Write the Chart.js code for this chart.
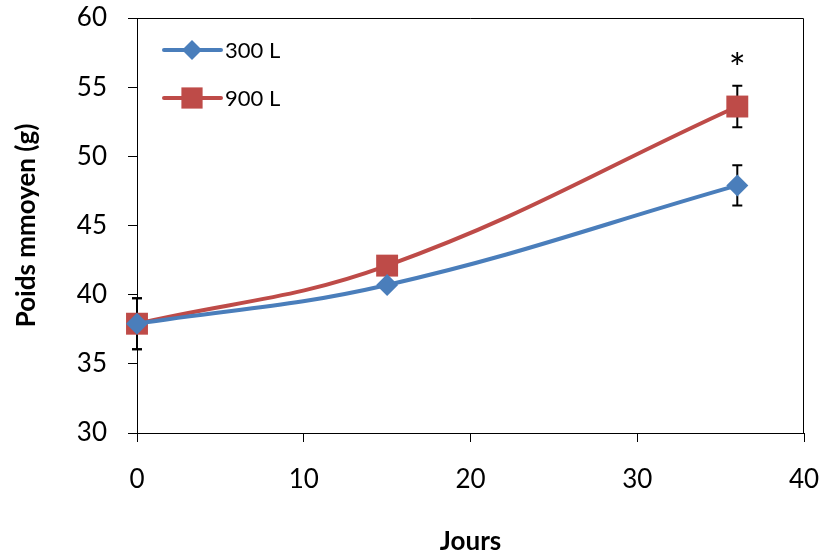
<!DOCTYPE html>
<html>
<head>
<meta charset="utf-8">
<script src="https://cdn.jsdelivr.net/npm/chart.js@4.4.1/dist/chart.umd.min.js"></script>
<style>
  html, body { margin: 0; padding: 0; background: #fff; }
  #wrap { width: 824px; height: 558px; }
</style>
</head>
<body>
<div id="wrap"><canvas id="poidsChart" width="824" height="558"></canvas></div>
<script>
const days = [0, 15, 36];
const poids300 = [37.9, 40.7, 47.9];
const poids900 = [37.9, 42.1, 53.6];
const err300 = [1.85, 0, 1.45];
const err900 = [1.85, 0, 1.5];
const seriesNames = ['300 L', '900 L'];
const xTicks = [0, 10, 20, 30, 40];
const yTicks = [30, 35, 40, 45, 50, 55, 60];
const starDay = 36; // significant difference

const blue = '#4A7EBB';
const red = '#BE4B48';
const font = 'Lato';

// error bars, drawn under the lines
const errorBars = {
    id: 'errorBars',
    beforeDatasetsDraw(chart) {
        const ctx = chart.ctx;
        const y = chart.scales.y;
        ctx.save();
        ctx.strokeStyle = '#000';
        ctx.lineWidth = 2;
        chart.data.datasets.forEach((ds, i) => {
            const meta = chart.getDatasetMeta(i);
            ds.errors.forEach((e, j) => {
                if (!e) return;
                const px = meta.data[j].x;
                const top = y.getPixelForValue(ds.data[j].y + e);
                const bot = y.getPixelForValue(ds.data[j].y - e);
                ctx.beginPath();
                ctx.moveTo(px, top); ctx.lineTo(px, bot);
                ctx.moveTo(px - 5, top); ctx.lineTo(px + 5, top);
                ctx.moveTo(px - 5, bot); ctx.lineTo(px + 5, bot);
                ctx.stroke();
            });
        });
        ctx.restore();
    }
};

// frame, legend and star
const extras = {
    id: 'extras',
    afterDraw(chart) {
        const ctx = chart.ctx;
        const a = chart.chartArea;
        ctx.save();
        ctx.strokeStyle = '#000';
        ctx.lineWidth = 1;
        ctx.beginPath();
        ctx.moveTo(a.left, a.top + 0.5); ctx.lineTo(a.right - 0.5, a.top + 0.5);
        ctx.lineTo(a.right - 0.5, a.bottom);
        ctx.stroke();

        // legend
        const items = [
            { label: seriesNames[0], color: blue, style: 'rectRot', r: 10 },
            { label: seriesNames[1], color: red, style: 'rect', r: 15 }
        ];
        items.forEach((it, i) => {
            const ly = a.top + 32 + i * 48;
            const lx = a.left + 27;
            ctx.strokeStyle = it.color;
            ctx.lineWidth = 4;
            ctx.lineCap = 'round';
            ctx.beginPath();
            ctx.moveTo(lx, ly); ctx.lineTo(lx + 57, ly);
            ctx.stroke();
            ctx.fillStyle = it.color;
            Chart.helpers.drawPoint(ctx, { pointStyle: it.style, radius: it.r, borderWidth: 0 }, lx + 28, ly);
            ctx.fillStyle = '#000';
            ctx.font = '22px ' + font;
            ctx.textBaseline = 'middle';
            ctx.fillText(it.label, lx + 61, ly + 1);
        });

        // star above 900 L at day 36
        const sx = chart.scales.x.getPixelForValue(starDay);
        const sy = chart.scales.y.getPixelForValue(poids900[2] + err900[2]) - 3;
        ctx.fillStyle = '#000';
        ctx.font = '40px ' + font;
        ctx.textAlign = 'center';
        ctx.textBaseline = 'alphabetic';
        ctx.fillText('*', sx, sy);
        ctx.restore();
    }
};

const ctx = document.getElementById('poidsChart').getContext('2d');
const poidsChart = new Chart(ctx, {
    type: 'line',
    data: {
        datasets: [{
            label: seriesNames[0],
            data: days.map((d, i) => ({ x: d, y: poids300[i] })),
            errors: err300,
            borderColor: blue,
            backgroundColor: blue,
            borderWidth: 4,
            pointStyle: 'rectRot',
            pointRadius: 11,
            pointBorderWidth: 0,
            tension: 0.4,
            clip: false
        }, {
            label: seriesNames[1],
            data: days.map((d, i) => ({ x: d, y: poids900[i] })),
            errors: err900,
            borderColor: red,
            backgroundColor: red,
            borderWidth: 4,
            pointStyle: 'rect',
            pointRadius: 15.5,
            pointBorderWidth: 0,
            tension: 0.4,
            clip: false
        }]
    },
    options: {
        responsive: false,
        animation: false,
        layout: { padding: { top: 18, right: 20, left: 0, bottom: 0 } },
        plugins: {
            legend: { display: false },
            tooltip: { enabled: false }
        },
        scales: {
            x: {
                type: 'linear',
                min: 0,
                max: 40,
                afterBuildTicks: scale => { scale.ticks = xTicks.map(v => ({ value: v })); },
                afterFit: scale => {
                    scale.height = 125;
                    scale.paddingLeft = 0;
                    scale.paddingRight = 0;
                },
                grid: { drawOnChartArea: false, tickLength: 9, color: '#000', tickColor: '#000' },
                border: { color: '#000', width: 1 },
                ticks: { color: '#000', font: { family: font, size: 26 }, padding: 22, maxRotation: 0 },
                title: {
                    display: true,
                    text: 'Jours',
                    color: '#000',
                    font: { family: font, size: 26, weight: 'bold' },
                    padding: { top: 0, bottom: 1 }
                }
            },
            y: {
                min: 30,
                max: 60,
                afterBuildTicks: scale => { scale.ticks = yTicks.map(v => ({ value: v })); },
                afterFit: scale => {
                    scale.width = 137;
                    scale.paddingTop = 0;
                    scale.paddingBottom = 0;
                },
                grid: { drawOnChartArea: false, tickLength: 9, color: '#000', tickColor: '#000' },
                border: { color: '#000', width: 1 },
                ticks: { color: '#000', font: { family: font, size: 26 }, padding: 21 },
                title: {
                    display: true,
                    text: 'Poids mmoyen (g)',
                    color: '#000',
                    font: { family: font, size: 26, weight: 'bold' },
                    padding: { top: 11, bottom: 0 }
                }
            }
        }
    },
    plugins: [errorBars, extras]
});
</script>
</body>
</html>
